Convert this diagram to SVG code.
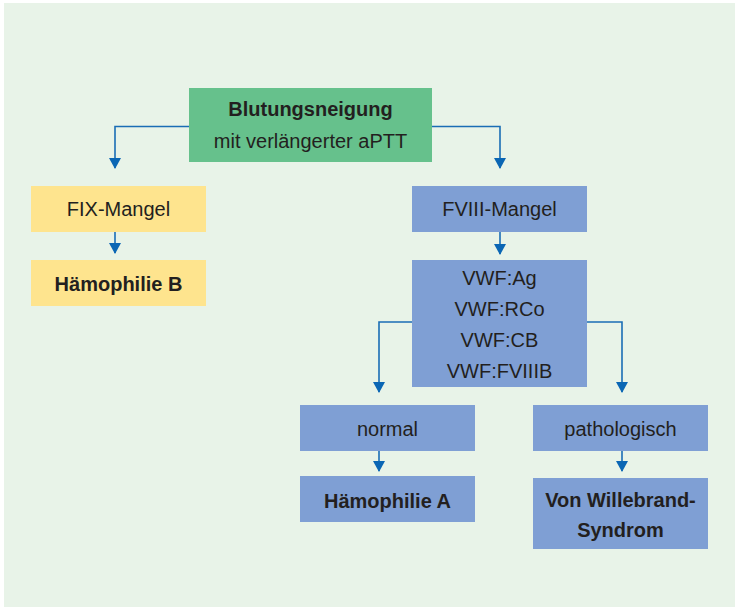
<svg xmlns="http://www.w3.org/2000/svg" width="735" height="607" viewBox="0 0 735 607">
<defs>
<marker id="ah" markerWidth="11" markerHeight="12" refX="10" refY="6" orient="auto" markerUnits="userSpaceOnUse" viewBox="0 0 11 12">
<path d="M0,0 L11,6 L0,12 Z" fill="#0a66b4"/>
</marker>
<style>
text{font-family:"Liberation Sans",Arial,sans-serif;font-size:20px;fill:#231f20;text-anchor:middle}
.b{font-weight:bold;font-size:20px}
.g{fill:#66c18c}
.y{fill:#fee48e}
.bl{fill:#7f9fd4}
.c{fill:none;stroke:#1a6db5;stroke-width:1.6;marker-end:url(#ah)}
</style>
</defs>
<rect x="4" y="3" width="731" height="604" fill="#e8f3e8"/>
<g id="connectors">
<path class="c" d="M189,126.5 H115 V168"/>
<path class="c" d="M432,126.5 H500 V168"/>
<path class="c" d="M115,232 V253"/>
<path class="c" d="M500,232 V254"/>
<path class="c" d="M412,322 H379 V392"/>
<path class="c" d="M587,322 H622 V392"/>
<path class="c" d="M379,451 V471"/>
<path class="c" d="M622,451 V471"/>
</g>
<g id="n-blutung">
<rect class="g" x="189" y="88" width="243" height="74"/>
<text class="b" x="310.5" y="116">Blutungsneigung</text>
<text x="310.5" y="148">mit verlängerter aPTT</text>
</g>
<g id="n-fix">
<rect class="y" x="31" y="186" width="175" height="46"/>
<text x="118.5" y="216">FIX-Mangel</text>
</g>
<g id="n-hb">
<rect class="y" x="31" y="260" width="175" height="46"/>
<text class="b" x="118.5" y="291">Hämophilie B</text>
</g>
<g id="n-fviii">
<rect class="bl" x="412" y="186" width="175" height="46"/>
<text x="499.5" y="216">FVIII-Mangel</text>
</g>
<g id="n-vwf">
<rect class="bl" x="412" y="260" width="175" height="127"/>
<text x="499.5" y="285">VWF:Ag</text>
<text x="499.5" y="316">VWF:RCo</text>
<text x="499.5" y="347">VWF:CB</text>
<text x="499.5" y="378">VWF:FVIIIB</text>
</g>
<g id="n-normal">
<rect class="bl" x="300" y="405" width="175" height="46"/>
<text x="387.5" y="436">normal</text>
</g>
<g id="n-ha">
<rect class="bl" x="300" y="476" width="175" height="46"/>
<text class="b" x="387.5" y="508">Hämophilie A</text>
</g>
<g id="n-patho">
<rect class="bl" x="533" y="405" width="175" height="46"/>
<text x="620.5" y="436">pathologisch</text>
</g>
<g id="n-vws">
<rect class="bl" x="533" y="478" width="175" height="71"/>
<text class="b" x="620.5" y="507">Von Willebrand-</text>
<text class="b" x="620.5" y="537">Syndrom</text>
</g>
</svg>
